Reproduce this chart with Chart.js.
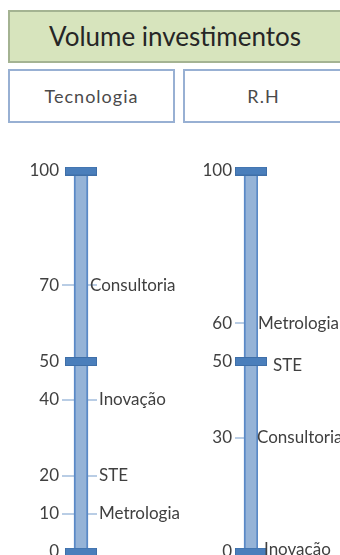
<!DOCTYPE html>
<html lang="pt">
<head>
<meta charset="utf-8">
<script src="https://cdn.jsdelivr.net/npm/chart.js@4.4.1/dist/chart.umd.min.js"></script>
<style>
  html, body { margin:0; padding:0; background:#fff; }
  body { width:340px; height:555px; overflow:hidden; position:relative; font-family: Lato, "Open Sans", sans-serif; }
  .box { position:absolute; box-sizing:border-box; white-space:nowrap; }
  #title { left:8px; top:10px; width:334px; height:53px; background:#d7e4bd; border:2px solid #a4b392; color:#262626; font-size:26px; line-height:49px; text-align:center; }
  #p1 { left:8px; top:69px; width:167px; height:54px; border:2px solid #98b0d3; color:#4a4a4a; font-size:18px; letter-spacing:1px; line-height:50px; text-align:center; }
  #p2 { left:183px; top:69px; width:170px; height:54px; border:2px solid #98b0d3; color:#4a4a4a; font-size:18px; letter-spacing:1px; line-height:50px; }
  #p2 span { display:inline-block; width:157px; text-align:center; }
  .wrap { position:absolute; top:130px; height:425px; }
  #wl { left:0; width:200px; } #wr { left:170px; width:170px; }
</style>
</head>
<body>
<div class="box" id="title"></div>
<div class="box" id="p1"></div>
<div class="box" id="p2"><span></span></div>
<div class="wrap" id="wl"><canvas id="cl" width="200" height="425"></canvas></div>
<div class="wrap" id="wr"><canvas id="cr" width="170" height="425"></canvas></div>
<script>
// ---- data ----
const chartTitle = 'Volume investimentos';
const panelTitles = ['Tecnologia', 'R.H'];
const scaleMarks = [0, 50, 100];
const tecTicks = [0, 10, 20, 40, 50, 70, 100];
const tecValues = [70, 40, 20, 10];
const tecItems = ['Consultoria', 'Inovação', 'STE', 'Metrologia'];
const rhTicks = [0, 30, 50, 60, 100];
const rhValues = [60, 50, 30, 0];
const rhItems = ['Metrologia', 'STE', 'Consultoria', 'Inovação'];

// ---- style / layout ----
const TEXT = '#404040', BAR_FILL = '#95b3d7', BAR_EDGE = '#5a89c6', LINK = '#b9cde5';
const tecLayout = { width: 200, axisWidth: 62, areaRight: 97, barX: 81, labelDx: [2, 11, 11, 11], labelDy: [0, 0, 0, 0] };
const rhLayout  = { width: 170, axisWidth: 65, areaRight: 88, barX: 81, labelDx: [0, 15, -1, 6], labelDy: [0, 4, 0, -2] };

document.getElementById('title').textContent = chartTitle;
document.getElementById('p1').textContent = panelTitles[0];
document.querySelector('#p2 span').textContent = panelTitles[1];

Chart.defaults.font.family = 'Lato, "Open Sans", sans-serif';

function capImage() {
  const c = document.createElement('canvas');
  c.width = 32; c.height = 9;
  const g = c.getContext('2d');
  g.fillStyle = '#4a7ebb'; g.fillRect(0, 0, 32, 9);
  g.strokeStyle = '#3f6fa8'; g.lineWidth = 1; g.strokeRect(0.5, 0.5, 31, 8);
  return c;
}
const capImg = capImage();

function drawPanel(canvasId, ticks, values, items, L) {
  const itemLabels = {
    id: 'itemLabels',
    afterDatasetsDraw(chart) {
      const ctx = chart.ctx, y = chart.scales.y;
      const bar = chart.getDatasetMeta(0).data[0];
      const right = bar.x + bar.width / 2;
      ctx.save();
      ctx.font = '17px Lato, "Open Sans", sans-serif';
      ctx.fillStyle = TEXT;
      ctx.textBaseline = 'middle';
      ctx.textAlign = 'left';
      values.forEach((v, i) => ctx.fillText(items[i], right + L.labelDx[i], y.getPixelForValue(v) + L.labelDy[i]));
      ctx.restore();
    }
  };
  new Chart(document.getElementById(canvasId), {
    type: 'bar',
    data: {
      datasets: [
        { data: [{ x: L.barX, y: [0, 100] }], backgroundColor: BAR_FILL, borderColor: BAR_EDGE,
          borderWidth: { left: 2, right: 2, top: 0, bottom: 0 }, borderSkipped: false, barThickness: 14, order: 2 },
        { type: 'scatter', data: scaleMarks.map(v => ({ x: L.barX, y: v })), pointStyle: capImg,
          pointRadius: 5, clip: false, order: 1 }
      ]
    },
    options: {
      responsive: false, animation: false, events: [],
      layout: { autoPadding: false, padding: { left: 0, right: L.width - L.areaRight, top: 41, bottom: 3 } },
      plugins: { legend: { display: false }, tooltip: { enabled: false } },
      scales: {
        x: { type: 'linear', display: false, min: L.axisWidth, max: L.areaRight, offset: false },
        y: {
          min: 0, max: 100,
          afterBuildTicks: s => { s.ticks = ticks.map(v => ({ value: v })); },
          afterFit: s => { s.width = L.axisWidth; s.paddingTop = 0; s.paddingBottom = 0; },
          grid: { drawTicks: false, lineWidth: 2,
                  color: c => (c.tick && scaleMarks.includes(c.tick.value)) ? 'rgba(0,0,0,0)' : LINK },
          border: { display: false },
          ticks: { padding: 3, autoSkip: false, color: TEXT, font: { size: 17 } }
        }
      }
    },
    plugins: [itemLabels]
  });
}

drawPanel('cl', tecTicks, tecValues, tecItems, tecLayout);
drawPanel('cr', rhTicks, rhValues, rhItems, rhLayout);
</script>
</body>
</html>
